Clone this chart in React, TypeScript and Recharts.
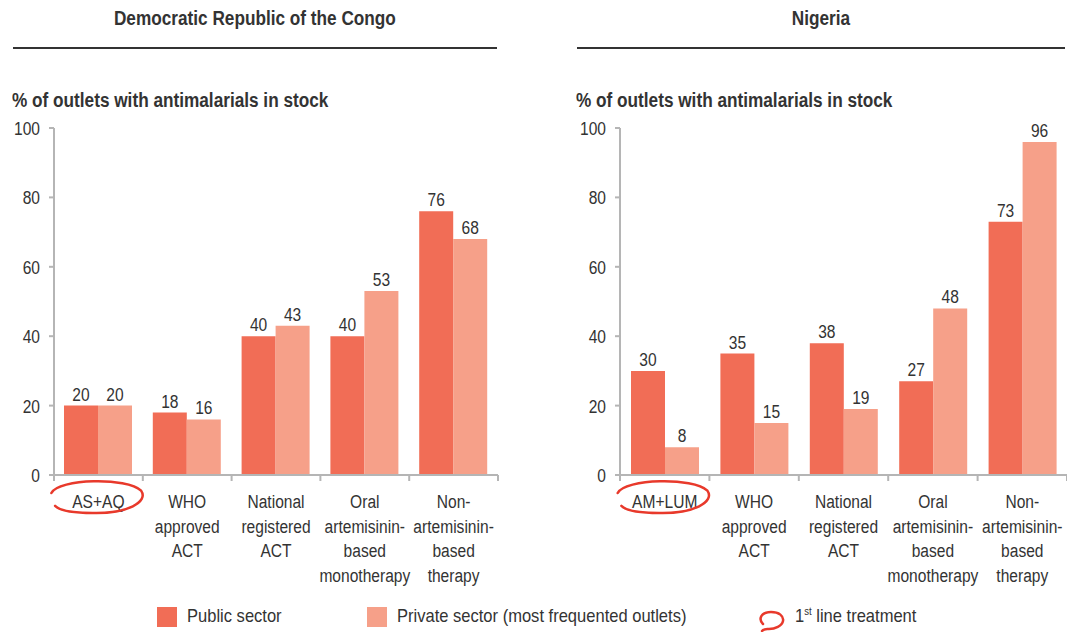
import { BarChart, Bar, XAxis, YAxis, LabelList } from 'recharts'

// categories (line breaks are kept as in the printed labels)
const drcCategories = ['AS+AQ', 'WHO\napproved\nACT', 'National\nregistered\nACT', 'Oral\nartemisinin-\nbased\nmonotherapy', 'Non-\nartemisinin-\nbased\ntherapy']
const ngaCategories = ['AM+LUM', 'WHO\napproved\nACT', 'National\nregistered\nACT', 'Oral\nartemisinin-\nbased\nmonotherapy', 'Non-\nartemisinin-\nbased\ntherapy']

// % of outlets with antimalarials in stock
const drcPublic = [20, 18, 40, 40, 76]
const drcPrivate = [20, 16, 43, 53, 68]
const ngaPublic = [30, 35, 38, 27, 73]
const ngaPrivate = [8, 15, 19, 48, 96]

const yTicks = [0, 20, 40, 60, 80, 100]

const PUBLIC = '#F16D56'
const PRIVATE = '#F6A089'
const RED = '#E8392B'
const TEXT = '#333333'
const AXIS = '#B5B5B5'
const FONT = '"Liberation Sans", Arial, sans-serif'
const SQUEEZE = 0.82 // the original uses a condensed face

const buildRows = (cats: string[], pub: number[], priv: number[]) =>
  cats.map((name, i) => ({ name, public: pub[i], private: priv[i] }))

// hand drawn loop used for the "1st line treatment" marker
const loopPath = (cx: number, cy: number, rx: number, ry: number) =>
  `M ${cx - rx} ${cy - ry * 0.25}
   C ${cx - rx * 0.85} ${cy - ry * 1.15}, ${cx + rx * 0.65} ${cy - ry * 1.25}, ${cx + rx * 0.95} ${cy - ry * 0.4}
   C ${cx + rx * 1.12} ${cy + ry * 0.3}, ${cx + rx * 0.65} ${cy + ry * 1.05}, ${cx - rx * 0.1} ${cy + ry}
   C ${cx - rx * 0.55} ${cy + ry}, ${cx - rx * 0.82} ${cy + ry * 0.85}, ${cx - rx * 0.92} ${cy + ry * 0.55}`

// svg text squeezed horizontally around its anchor point
const Narrow = ({ x, y, anchor = 'middle', children }: { x: number; y: number; anchor?: string; children: any }) => (
  <text
    transform={`translate(${x} ${y}) scale(${SQUEEZE} 1)`}
    x={0}
    y={0}
    textAnchor={anchor}
    fill={TEXT}
    fontSize={19}
    fontFamily={FONT}
  >
    {children}
  </text>
)

const CategoryTick = (props: any) => {
  const { x, y, payload, index, band, count } = props
  const lines = String(payload.value).split('\n')
  return (
    <g>
      <line x1={x - band / 2} x2={x - band / 2} y1={y} y2={y + 6} stroke={AXIS} strokeWidth={2} />
      {index === count - 1 && (
        <line x1={x + band / 2} x2={x + band / 2} y1={y} y2={y + 6} stroke={AXIS} strokeWidth={2} />
      )}
      {lines.map((l, i) => (
        <Narrow key={i} x={x} y={y + 33 + i * 24.5}>
          {l}
        </Narrow>
      ))}
      {index === 0 && (
        <path d={loopPath(x - 1, y + 22, 46, 16)} fill='none' stroke={RED} strokeWidth={2.5} strokeLinecap='round' />
      )}
    </g>
  )
}

const ValueTick = (props: any) => (
  <Narrow x={props.x} y={props.y + 7} anchor='end'>
    {props.payload.value}
  </Narrow>
)

const ValueLabel = (props: any) => (
  <Narrow x={props.x + props.width / 2} y={props.y - 5}>
    {props.value}
  </Narrow>
)

const Panel = ({ rows, width, left, rightMargin }: { rows: any[]; width: number; left: number; rightMargin: number }) => {
  const plotWidth = width - 10 - 44 - rightMargin
  const band = plotWidth / rows.length
  return (
    <div style={{ position: 'absolute', left, top: 110 }}>
      <BarChart width={width} height={480} data={rows} margin={{ top: 18, right: rightMargin, left: 10, bottom: 0 }} barGap={0} barSize={34}>
        <YAxis
          width={44}
          domain={[0, 100]}
          ticks={yTicks}
          interval={0}
          axisLine={{ stroke: AXIS, strokeWidth: 2 }}
          tickLine={{ stroke: AXIS, strokeWidth: 2 }}
          tickSize={5}
          tickMargin={9}
          tick={<ValueTick />}
        />
        <XAxis
          dataKey='name'
          height={115}
          interval={0}
          tickSize={0}
          tickMargin={0}
          tickLine={false}
          axisLine={{ stroke: AXIS, strokeWidth: 2 }}
          tick={(p: any) => <CategoryTick {...p} band={band} count={rows.length} />}
        />
        <Bar dataKey='public' fill={PUBLIC} isAnimationActive={false}>
          <LabelList dataKey='public' content={<ValueLabel />} />
        </Bar>
        <Bar dataKey='private' fill={PRIVATE} isAnimationActive={false}>
          <LabelList dataKey='private' content={<ValueLabel />} />
        </Bar>
      </BarChart>
    </div>
  )
}

const squeezed = (origin: string, k = 0.86) => ({
  display: 'inline-block',
  transform: `scaleX(${k})`,
  transformOrigin: origin,
  whiteSpace: 'nowrap' as const,
})

const Heading = ({ title, left, width }: { title: string; left: number; width: number }) => (
  <>
    <div style={{ position: 'absolute', left, width, top: 7, textAlign: 'center', fontWeight: 'bold', fontSize: 20 }}>
      <span style={squeezed('center')}>{title}</span>
    </div>
    <div style={{ position: 'absolute', left, width, top: 47, height: 1.5, background: TEXT }} />
    <div style={{ position: 'absolute', left: left - 1, top: 89, fontWeight: 'bold', fontSize: 20 }}>
      <span style={squeezed('left')}>% of outlets with antimalarials in stock</span>
    </div>
  </>
)

export default function App() {
  return (
    <div style={{ position: 'absolute', left: 0, top: 0, width: 1067, height: 632, background: '#fff', color: TEXT, fontFamily: FONT, overflow: 'hidden' }}>
      <Heading title='Democratic Republic of the Congo' left={13} width={484} />
      <Heading title='Nigeria' left={577} width={488} />
      <Panel rows={buildRows(drcCategories, drcPublic, drcPrivate)} width={520} left={0} rightMargin={22} />
      <Panel rows={buildRows(ngaCategories, ngaPublic, ngaPrivate)} width={501} left={566} rightMargin={0} />
      <div style={{ position: 'absolute', top: 605, left: 0, width: 1067, height: 27, fontSize: 19 }}>
        <div style={{ position: 'absolute', left: 157, top: 2, width: 20, height: 20, background: PUBLIC }} />
        <div style={{ position: 'absolute', left: 187, top: 0 }}>
          <span style={squeezed('left', 0.87)}>Public sector</span>
        </div>
        <div style={{ position: 'absolute', left: 367, top: 2, width: 20, height: 20, background: PRIVATE }} />
        <div style={{ position: 'absolute', left: 397, top: 0 }}>
          <span style={squeezed('left', 0.87)}>Private sector (most frequented outlets)</span>
        </div>
        <svg style={{ position: 'absolute', left: 756, top: 2 }} width={32} height={25}>
          <path
            d='M 7 17 C 2 12, 5 5, 15 5 C 23 5, 28 9, 27 14 C 26 19, 19 22, 13 22 C 10 22, 8 21.5, 6 24'
            fill='none'
            stroke={RED}
            strokeWidth={2.5}
            strokeLinecap='round'
          />
        </svg>
        <div style={{ position: 'absolute', left: 795, top: 0 }}>
          <span style={squeezed('left', 0.87)}>
            1<sup style={{ fontSize: 11 }}>st</sup> line treatment
          </span>
        </div>
      </div>
    </div>
  )
}
